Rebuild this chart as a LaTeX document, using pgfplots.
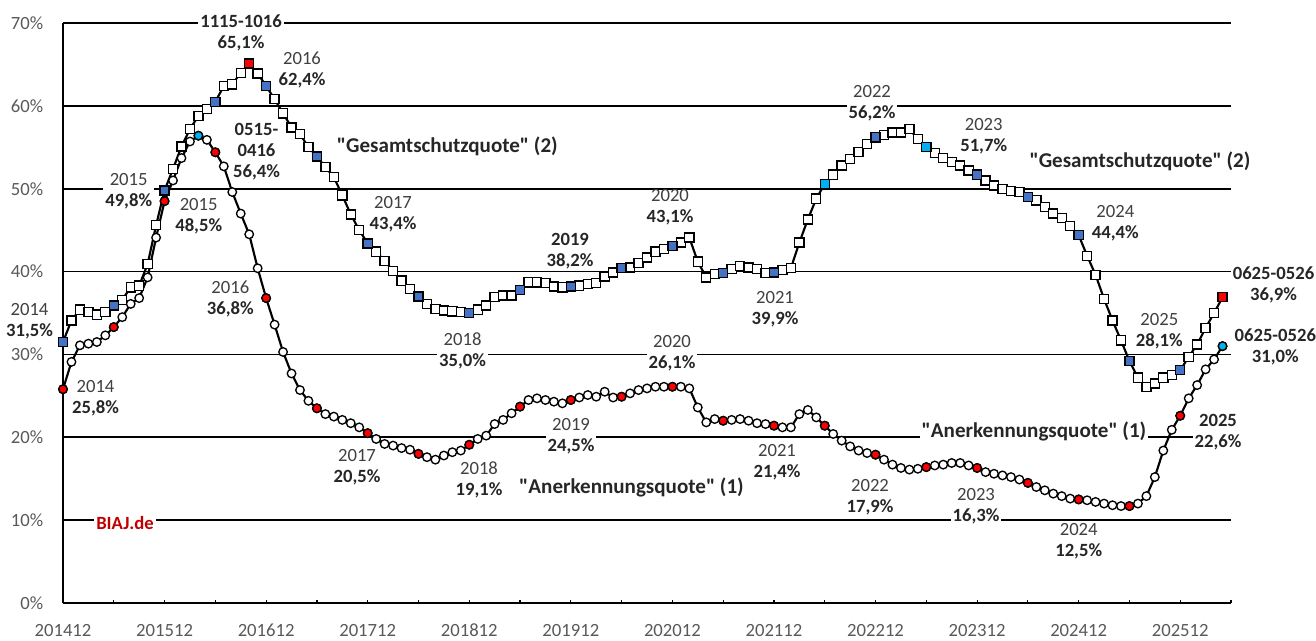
\documentclass[border=0pt]{standalone}
\usepackage{pgfplots}
\pgfplotsset{compat=1.18}
\usepackage{pgfplotstable}
\usepackage{fontspec}
\setmainfont{Carlito}[Ligatures=TeXOff]
\definecolor{bq}{HTML}{4472C4}
\definecolor{lb}{HTML}{00B0F0}
\definecolor{rd}{HTML}{FF0000}
\definecolor{tickgray}{HTML}{595959}
\definecolor{yeargray}{HTML}{404040}
\definecolor{valblack}{HTML}{262626}
\definecolor{biaj}{HTML}{C00000}

\pgfplotstableread{
i g a
0 31.5 25.8
1 34.1 29.1
2 35.4 31.1
3 35.1 31.3
4 34.8 31.5
5 35.1 32.3
6 35.9 33.3
7 36.6 34.5
8 38.1 36.1
9 38.3 36.8
10 40.9 39.3
11 45.6 44.1
12 49.8 48.5
13 52.4 51.0
14 55.1 53.7
15 57.2 55.7
16 58.8 56.4
17 59.6 55.9
18 60.5 54.4
19 62.4 52.7
20 62.6 49.6
21 64.0 47.0
22 65.1 44.5
23 63.9 40.4
24 62.4 36.8
25 60.8 33.6
26 59.1 30.3
27 57.4 27.7
28 56.6 25.7
29 55.0 24.4
30 53.9 23.5
31 52.6 22.8
32 51.4 22.5
33 49.2 22.1
34 46.9 21.7
35 45.0 21.2
36 43.4 20.5
37 42.4 19.8
38 41.3 19.2
39 40.1 19.0
40 38.9 18.7
41 37.9 18.5
42 37.0 18.0
43 36.1 17.6
44 35.5 17.3
45 35.3 17.8
46 35.2 18.2
47 35.1 18.4
48 35.0 19.1
49 35.4 19.8
50 35.9 20.2
51 36.9 21.6
52 37.1 22.1
53 37.1 22.9
54 37.8 23.7
55 38.7 24.5
56 38.7 24.7
57 38.6 24.5
58 38.2 24.3
59 38.1 24.1
60 38.2 24.5
61 38.3 24.8
62 38.5 25.1
63 38.6 24.9
64 39.4 25.5
65 39.9 24.8
66 40.4 24.9
67 40.5 25.3
68 41.0 25.7
69 41.7 25.9
70 42.4 26.1
71 42.7 26.1
72 43.1 26.1
73 43.5 26.1
74 44.1 25.9
75 41.2 23.6
76 39.3 21.8
77 39.7 22.2
78 39.8 22.0
79 40.3 22.1
80 40.7 22.2
81 40.5 22.0
82 40.3 21.7
83 39.8 21.6
84 39.9 21.4
85 40.2 21.2
86 40.4 21.2
87 43.5 22.8
88 46.3 23.3
89 48.8 22.4
90 50.6 21.4
91 51.7 20.4
92 52.8 19.6
93 53.6 18.9
94 54.4 18.4
95 55.4 18.1
96 56.2 17.9
97 56.5 17.3
98 56.8 16.7
99 56.8 16.3
100 57.2 16.1
101 56.0 16.2
102 55.0 16.4
103 54.3 16.6
104 53.7 16.7
105 53.2 16.9
106 52.8 16.9
107 52.2 16.6
108 51.7 16.3
109 51.0 15.8
110 50.4 15.6
111 50.0 15.4
112 49.7 15.2
113 49.6 14.9
114 49.0 14.5
115 48.6 14.0
116 47.8 13.6
117 47.0 13.2
118 46.5 12.9
119 45.5 12.6
120 44.4 12.5
121 41.9 12.4
122 39.6 12.2
123 36.7 12.0
124 34.1 11.8
125 31.7 11.7
126 29.2 11.7
127 27.2 12.0
128 26.1 12.9
129 26.5 15.2
130 27.2 18.4
131 27.5 20.9
132 28.1 22.6
133 29.7 24.7
134 31.2 26.3
135 33.2 28.2
136 35.0 29.4
137 36.9 31.0
}\data

\newcommand{\lf}{\fontsize{14}{15.75}\selectfont}
\newcommand{\qf}{\fontsize{15.8}{18}\selectfont\bfseries}
\newcommand{\lab}[5][]{\node[align=center, font=\lf, inner sep=1.5pt, #1] at (#2,#3) {{\color{yeargray}#4}\\{\bfseries\color{valblack}#5}};}
\pgfplotsset{
  circ/.style={mark=*, mark size=3.2pt, mark options={draw=black, line width=1pt, fill=#1}},
  sq/.style={mark=square*, mark size=3.4pt, mark options={draw=black, line width=1pt, fill=#1}},
}

\begin{document}
\begin{tikzpicture}
\begin{axis}[
  scale only axis, width=876pt, height=435pt,
  xmin=0, xmax=138, ymin=0, ymax=70,
  clip=false,
  axis lines*=left,
  axis line style={line width=1.2pt, black},
  xtick={0,12,...,132},
  xticklabels={201412,201512,201612,201712,201812,201912,202012,202112,202212,202312,202412,202512},
  minor xtick={6,18,...,138},
  tick align=inside,
  major tick length=2.5pt, minor tick length=2.5pt,
  xtick style={black, line width=0.9pt},
  ytick={0,10,...,70},
  yticklabels={0\%,10\%,20\%,30\%,40\%,50\%,60\%,70\%},
  ytick style={draw=none},
  ymajorgrids,
  grid style={black, line width=1.2pt},
  xticklabel style={anchor=base, yshift=-25.2pt, inner sep=0pt, font=\fontsize{14}{16}\selectfont, text=tickgray},
  yticklabel style={anchor=east, xshift=-14.6pt, inner sep=0pt, font=\fontsize{14}{16}\selectfont, text=tickgray},
]
% Anerkennungsquote (circles)
\addplot[black, line width=1.6pt, circ=white] table[x=i,y=a]{\data};
\addplot[only marks, circ=rd, each nth point=6, filter discard warning=false] table[x=i,y=a]{\data};
\addplot[only marks, circ=lb] coordinates {(16,56.4) (137,31.0)};
% Gesamtschutzquote (squares)
\addplot[black, line width=1.6pt, sq=white] table[x=i,y=g]{\data};
\addplot[only marks, sq=bq, each nth point=6, filter discard warning=false] table[x=i,y=g]{\data};
\addplot[only marks, sq=lb] coordinates {(90,50.6) (102,55.0)};
\addplot[only marks, sq=rd] coordinates {(22,65.1) (137,36.9)};
\end{axis}
\pgfresetboundingbox
\path[use as bounding box] (-47.25pt,-27.75pt) rectangle (939.75pt,452.25pt);
\begin{scope}[xshift=-47.25pt, yshift=452.25pt, x=0.75pt, y=-0.75pt]
\lab{29.5}{321.2}{2014}{31,5\%}
\lab{95.5}{398}{2014}{25,8\%}
\lab[fill=white]{128.7}{191.7}{2015}{49,8\%}
\lab{198.7}{216.5}{2015}{48,5\%}
\node[align=center, font=\lf\bfseries, text=valblack, fill=white, inner sep=1.5pt] at (241,32.7) {1115-1016\\65,1\%};
\lab{302}{69.7}{2016}{62,4\%}
\node[align=center, font=\lf\bfseries, text=valblack, inner sep=1.5pt] at (256.5,151.5) {0515-\\0416\\56,4\%};
\node[anchor=west, font=\qf, text=valblack, inner sep=0pt] at (336.7,146) {"Gesamtschutzquote" (2)};
\lab{230.3}{298.8}{2016}{36,8\%}
\lab{393}{214}{2017}{43,4\%}
\lab[fill=white]{462.6}{350.8}{2018}{35,0\%}
\node[align=center, font=\lf\bfseries, text=valblack, inner sep=1.5pt] at (570,251.6) {2019\\38,2\%};
\lab{670}{207.7}{2020}{43,1\%}
\lab[fill=white]{672}{353}{2020}{26,1\%}
\lab{775}{309.7}{2021}{39,9\%}
\lab{357}{467}{2017}{20,5\%}
\lab{479}{479.7}{2018}{19,1\%}
\lab[fill=white]{571}{436.7}{2019}{24,5\%}
\node[font=\qf, text=valblack, inner sep=1.5pt] at (631.5,487.3) {"Anerkennungsquote" (1)};
\lab{777}{462.2}{2021}{21,4\%}
\lab[fill=white]{872}{103.5}{2022}{56,2\%}
\lab{983.7}{135.8}{2023}{51,7\%}
\node[anchor=west, font=\qf, text=valblack, inner sep=0pt] at (1029.3,161.7) {"Gesamtschutzquote" (2)};
\lab{1115.3}{223}{2024}{44,4\%}
\node[align=center, font=\lf\bfseries, text=valblack, inner sep=1.5pt] at (1273.5,285) {0625-0526\\36,9\%};
\node[align=center, font=\lf\bfseries, text=valblack, inner sep=1.5pt] at (1275.3,346.7) {0625-0526\\31,0\%};
\lab{1159.3}{331.7}{2025}{28,1\%}
\node[font=\qf, text=valblack, fill=white, inner sep=1.5pt] at (1034,431.7) {"Anerkennungsquote" (1)};
\node[align=center, font=\lf\bfseries, text=valblack, fill=white, inner sep=1.5pt] at (1218,431.7) {2025\\22,6\%};
\lab{870}{497}{2022}{17,9\%}
\lab[fill=white]{976}{505.8}{2023}{16,3\%}
\lab[fill=white]{1078.7}{541.5}{2024}{12,5\%}
\node[font=\lf\bfseries, text=biaj, fill=white, inner sep=1.5pt] at (125,522.7) {BIAJ.de};
\end{scope}
\end{tikzpicture}
\end{document}
